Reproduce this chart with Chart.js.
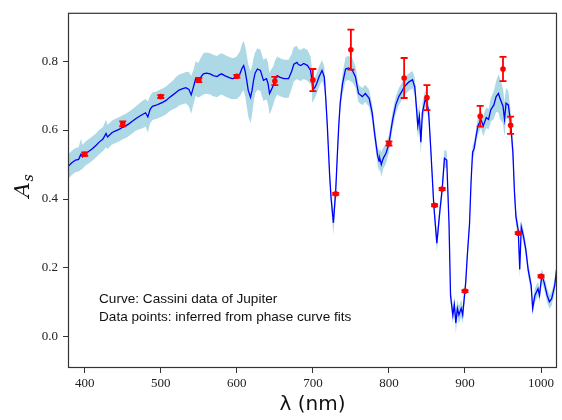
<!DOCTYPE html>
<html>
<head>
<meta charset="utf-8">
<script src="https://cdn.jsdelivr.net/npm/chart.js@4.4.1/dist/chart.umd.min.js"></script>
<style>
  html, body { margin: 0; padding: 0; background: #fff; }
</style>
</head>
<body>
<canvas id="albedoChart" width="562" height="420"></canvas>
<script>
// Cassini spectrum of Jupiter (curve) - wavelength in nm
var lambdaNm = [
  378, 383, 388, 392, 395, 397, 401, 405, 410, 415,
  419, 424, 428, 430, 436, 440, 445, 450, 454, 458,
  463, 467, 472, 476, 480, 483, 486, 489, 494, 498,
  503, 507, 511, 516, 520, 524, 529, 533, 537, 540,
  543, 546, 549, 552, 556, 560, 565, 569, 574, 577,
  580, 584, 587, 590, 594, 597, 600, 604, 607, 609,
  611, 613, 615, 618, 620, 622, 624, 627, 631, 635,
  639, 641, 643, 645, 648, 650, 653, 657, 662, 668,
  672, 675, 679, 681, 684, 688, 693, 697, 699, 700,
  703, 705, 708, 712, 715, 717, 719, 722, 724, 727,
  730, 732, 734, 736, 739, 743, 747, 752, 756, 760,
  765, 769, 774, 778, 781, 785, 787, 788, 790, 791,
  793, 796, 800, 802, 805, 809, 813, 817, 820, 826,
  831, 834, 836, 838, 840, 842, 844, 848, 852, 855,
  859, 863, 867, 870, 873, 876, 879, 881, 884, 886,
  888, 890, 892, 895, 897, 899, 901, 903, 906, 908,
  910, 912, 914, 917, 921, 924, 928, 931, 934, 938,
  941, 944, 946, 950, 952, 954, 957, 960, 963, 965,
  967, 970, 972, 974, 977, 980, 983, 987, 989, 992,
  996, 998, 1001, 1004, 1008, 1011, 1014, 1018, 1021
];
var albedo = [
  0.494, 0.505, 0.513, 0.515, 0.530, 0.522, 0.532, 0.538, 0.546, 0.556,
  0.565, 0.574, 0.590, 0.580, 0.593, 0.597, 0.602, 0.608, 0.612, 0.618,
  0.626, 0.633, 0.640, 0.645, 0.650, 0.638, 0.660, 0.669, 0.672, 0.676,
  0.681, 0.686, 0.694, 0.702, 0.709, 0.716, 0.720, 0.723, 0.718, 0.702,
  0.725, 0.750, 0.744, 0.752, 0.763, 0.765, 0.763, 0.758, 0.755, 0.760,
  0.763, 0.758, 0.755, 0.752, 0.749, 0.750, 0.752, 0.763, 0.780, 0.787,
  0.770, 0.744, 0.715, 0.695, 0.715, 0.744, 0.765, 0.777, 0.773, 0.744,
  0.749, 0.735, 0.706, 0.715, 0.730, 0.745, 0.758, 0.753, 0.749, 0.749,
  0.770, 0.791, 0.796, 0.790, 0.787, 0.793, 0.787, 0.773, 0.740, 0.716,
  0.725, 0.735, 0.754, 0.773, 0.754, 0.690, 0.612, 0.470, 0.400, 0.331,
  0.423, 0.520, 0.612, 0.680, 0.735, 0.777, 0.780, 0.773, 0.754, 0.706,
  0.697, 0.706, 0.692, 0.650, 0.593, 0.527, 0.510, 0.518, 0.500, 0.508,
  0.520, 0.532, 0.560, 0.590, 0.631, 0.673, 0.697, 0.712, 0.725, 0.739,
  0.746, 0.725, 0.670, 0.612, 0.640, 0.565, 0.650, 0.692, 0.659, 0.546,
  0.382, 0.272, 0.366, 0.428, 0.518, 0.513, 0.329, 0.121, 0.064, 0.093,
  0.041, 0.083, 0.064, 0.083, 0.064, 0.111, 0.159, 0.234, 0.329, 0.451,
  0.536, 0.546, 0.574, 0.612, 0.631, 0.612, 0.636, 0.631, 0.659, 0.673,
  0.697, 0.706, 0.692, 0.669, 0.631, 0.678, 0.673, 0.621, 0.536, 0.423,
  0.348, 0.310, 0.196, 0.319, 0.291, 0.253, 0.196, 0.149, 0.083, 0.121,
  0.140, 0.121, 0.178, 0.159, 0.121, 0.102, 0.111, 0.149, 0.206
];
// half width of the light blue uncertainty band
var albedoSpread = [
  0.035, 0.035, 0.035, 0.035, 0.045, 0.035, 0.035, 0.035, 0.035, 0.035,
  0.035, 0.035, 0.040, 0.035, 0.035, 0.035, 0.035, 0.035, 0.035, 0.035,
  0.035, 0.035, 0.038, 0.040, 0.040, 0.045, 0.040, 0.040, 0.040, 0.040,
  0.040, 0.040, 0.040, 0.042, 0.045, 0.045, 0.045, 0.045, 0.050, 0.055,
  0.050, 0.050, 0.050, 0.055, 0.060, 0.060, 0.060, 0.060, 0.060, 0.060,
  0.060, 0.060, 0.060, 0.060, 0.060, 0.060, 0.062, 0.065, 0.070, 0.072,
  0.072, 0.075, 0.075, 0.075, 0.070, 0.065, 0.060, 0.060, 0.060, 0.060,
  0.060, 0.060, 0.060, 0.060, 0.055, 0.055, 0.055, 0.055, 0.055, 0.055,
  0.050, 0.050, 0.048, 0.045, 0.045, 0.045, 0.045, 0.040, 0.035, 0.035,
  0.030, 0.030, 0.030, 0.030, 0.030, 0.025, 0.020, 0.020, 0.025, 0.035,
  0.025, 0.020, 0.020, 0.025, 0.030, 0.035, 0.035, 0.035, 0.030, 0.025,
  0.025, 0.025, 0.025, 0.025, 0.025, 0.025, 0.030, 0.030, 0.035, 0.035,
  0.030, 0.030, 0.025, 0.025, 0.025, 0.025, 0.025, 0.025, 0.025, 0.025,
  0.025, 0.025, 0.030, 0.035, 0.035, 0.035, 0.030, 0.025, 0.025, 0.020,
  0.020, 0.025, 0.020, 0.020, 0.025, 0.025, 0.020, 0.020, 0.025, 0.025,
  0.030, 0.025, 0.025, 0.025, 0.025, 0.020, 0.020, 0.020, 0.020, 0.020,
  0.020, 0.020, 0.020, 0.025, 0.025, 0.030, 0.030, 0.030, 0.035, 0.040,
  0.045, 0.055, 0.060, 0.050, 0.050, 0.045, 0.040, 0.035, 0.030, 0.025,
  0.025, 0.020, 0.025, 0.020, 0.020, 0.020, 0.020, 0.020, 0.020, 0.020,
  0.020, 0.020, 0.020, 0.020, 0.020, 0.020, 0.020, 0.020, 0.020
];

// phase curve fit points
var fitLambda = [400, 450, 500, 550, 600, 650, 700, 730, 750, 800,
                 820, 850, 860, 870, 900, 920, 950, 960, 970, 1000];
var fitAlbedo = [0.530, 0.618, 0.697, 0.745, 0.756, 0.742, 0.745, 0.415, 0.833, 0.561,
                 0.751, 0.694, 0.382, 0.429, 0.133, 0.640, 0.777, 0.614, 0.301, 0.176];
var fitError = [0.005, 0.007, 0.004, 0.006, 0.004, 0.012, 0.032, 0.003, 0.058, 0.006,
                0.058, 0.036, 0.003, 0.003, 0.003, 0.030, 0.035, 0.025, 0.003, 0.003];

var xTicks = [400, 500, 600, 700, 800, 900, 1000];
var yTicks = [0.0, 0.2, 0.4, 0.6, 0.8];
var notes = ['Curve: Cassini data of Jupiter', 'Data points: inferred from phase curve fits'];

function pts(ys) {
    return lambdaNm.map(function (l, i) { return { x: l, y: ys[i] }; });
}
var upper = pts(albedo.map(function (a, i) { return a + albedoSpread[i]; }));
var lower = pts(albedo.map(function (a, i) { return a - albedoSpread[i]; }));

var extras = {
    id: 'extras',
    afterDatasetsDraw: function (chart) {
        var xs = chart.scales.x, ys = chart.scales.y, ctx = chart.ctx;
        ctx.save();
        ctx.strokeStyle = '#ff0000';
        ctx.lineWidth = 1.8;
        for (var i = 0; i < fitLambda.length; i++) {
            var px = xs.getPixelForValue(fitLambda[i]);
            var top = ys.getPixelForValue(fitAlbedo[i] + fitError[i]);
            var bot = ys.getPixelForValue(fitAlbedo[i] - fitError[i]);
            ctx.beginPath();
            ctx.moveTo(px, top); ctx.lineTo(px, bot);
            ctx.moveTo(px - 3.5, top); ctx.lineTo(px + 3.5, top);
            ctx.moveTo(px - 3.5, bot); ctx.lineTo(px + 3.5, bot);
            ctx.stroke();
        }
        ctx.restore();
    },
    afterDraw: function (chart) {
        var a = chart.chartArea, ctx = chart.ctx;
        ctx.save();
        // frame on all four sides
        ctx.strokeStyle = '#333';
        ctx.lineWidth = 1.2;
        ctx.strokeRect(a.left + 0.5, a.top + 0.5, a.right - a.left - 1, a.bottom - a.top - 1);

        // notes inside the plot
        ctx.fillStyle = '#111';
        ctx.font = '13.6px "Liberation Sans", Arial, sans-serif';
        ctx.textBaseline = 'alphabetic';
        ctx.fillText(notes[0], 99, 302.5);
        ctx.fillText(notes[1], 99, 321);

        // y axis title  A_s
        ctx.translate(29, 186);
        ctx.rotate(-Math.PI / 2);
        ctx.font = 'italic 21px "DejaVu Serif", "Liberation Serif", serif';
        ctx.textAlign = 'left';
        var w = ctx.measureText('A').width;
        ctx.fillText('A', -w / 2 - 4, 0);
        ctx.font = 'italic 14px "DejaVu Serif", "Liberation Serif", serif';
        ctx.fillText('s', w / 2 - 3, 4);
        ctx.restore();
    }
};

var tickFont = { family: '"Liberation Serif", "DejaVu Serif", serif', size: 13 };

new Chart(document.getElementById('albedoChart'), {
    type: 'line',
    data: {
        datasets: [
            {
                data: fitLambda.map(function (l, i) { return { x: l, y: fitAlbedo[i] }; }),
                showLine: false,
                pointRadius: 2.8,
                pointBackgroundColor: '#ff0000',
                pointBorderWidth: 0,
                order: 0
            },
            {
                data: pts(albedo),
                borderColor: '#0000ff',
                borderWidth: 1.3,
                pointRadius: 0,
                fill: false,
                tension: 0,
                order: 1
            },
            {
                data: upper,
                borderWidth: 0,
                pointRadius: 0,
                backgroundColor: 'rgb(173,216,230)',
                fill: '+1',
                order: 2
            },
            {
                data: lower,
                borderWidth: 0,
                pointRadius: 0,
                fill: false,
                order: 3
            }
        ]
    },
    options: {
        responsive: false,
        animation: false,
        devicePixelRatio: 1,
        layout: { padding: { top: 4, right: 5, left: 0, bottom: 0 } },
        plugins: { legend: { display: false }, tooltip: { enabled: false } },
        scales: {
            x: {
                type: 'linear',
                min: 378,
                max: 1021,
                afterBuildTicks: function (s) { s.ticks = xTicks.map(function (v) { return { value: v }; }); },
                afterFit: function (s) { s.height = 52; },
                border: { display: false },
                grid: { drawOnChartArea: false, drawTicks: true, tickLength: 5, color: '#333' },
                ticks: {
                    font: tickFont, color: '#222', padding: 3, maxRotation: 0,
                    callback: function (v) { return String(v); }
                },
                title: {
                    display: true,
                    text: 'λ (nm)',
                    color: '#111',
                    font: { family: '"DejaVu Sans", "Liberation Sans", sans-serif', size: 20 },
                    padding: { top: 0, bottom: 3 }
                }
            },
            y: {
                type: 'linear',
                min: -0.09,
                max: 0.94,
                afterBuildTicks: function (s) { s.ticks = yTicks.map(function (v) { return { value: v }; }); },
                afterFit: function (s) { s.width = 68; },
                border: { display: false },
                grid: { drawOnChartArea: false, drawTicks: true, tickLength: 5, color: '#333' },
                ticks: {
                    font: tickFont, color: '#222', padding: 5,
                    callback: function (v) { return Number(v).toFixed(1); }
                }
            }
        }
    },
    plugins: [extras]
});
</script>
</body>
</html>
